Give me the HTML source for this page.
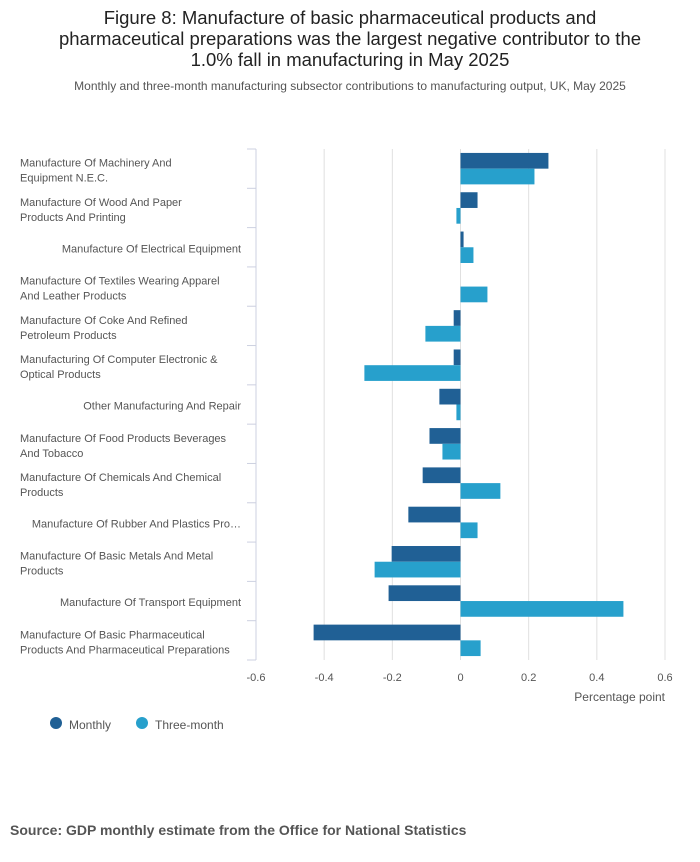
<!DOCTYPE html>
<html><head><meta charset="utf-8"><style>
body{margin:0;background:#fff;font-family:"Liberation Sans",sans-serif;}
</style></head><body>
<svg width="700" height="857" xmlns="http://www.w3.org/2000/svg" id="svg" font-family="Liberation Sans, sans-serif">
<text x="350" y="24" text-anchor="middle" font-size="18.5" fill="#222">Figure 8: Manufacture of basic pharmaceutical products and</text>
<text x="350" y="45" text-anchor="middle" font-size="18.5" fill="#222">pharmaceutical preparations was the largest negative contributor to the</text>
<text x="350" y="66" text-anchor="middle" font-size="18.5" fill="#222">1.0% fall in manufacturing in May 2025</text>
<text x="350" y="90" text-anchor="middle" font-size="12" fill="#555">Monthly and three-month manufacturing subsector contributions to manufacturing output, UK, May 2025</text>
<g id="plot"></g>
<text x="665" y="701" text-anchor="end" font-size="12" fill="#555">Percentage point</text>
<circle cx="56" cy="723" r="6" fill="#206095"/>
<text x="69" y="729" font-size="12" fill="#555">Monthly</text>
<circle cx="142" cy="723" r="6" fill="#27a0cc"/>
<text x="155" y="729" font-size="12" fill="#555">Three-month</text>
<text x="10" y="835" font-size="14" font-weight="bold" fill="#555">Source: GDP monthly estimate from the Office for National Statistics</text>
</svg>
<script>
const categories=[["Manufacture Of Machinery And","Equipment N.E.C."],["Manufacture Of Wood And Paper","Products And Printing"],["Manufacture Of Electrical Equipment"],["Manufacture Of Textiles Wearing Apparel","And Leather Products"],["Manufacture Of Coke And Refined","Petroleum Products"],["Manufacturing Of Computer Electronic &","Optical Products"],["Other Manufacturing And Repair"],["Manufacture Of Food Products Beverages","And Tobacco"],["Manufacture Of Chemicals And Chemical","Products"],["Manufacture Of Rubber And Plastics Pro…"],["Manufacture Of Basic Metals And Metal","Products"],["Manufacture Of Transport Equipment"],["Manufacture Of Basic Pharmaceutical","Products And Pharmaceutical Preparations"]];
const monthly=[0.258,0.05,0.009,0,-0.02,-0.02,-0.062,-0.091,-0.111,-0.153,-0.202,-0.211,-0.431];
const threeMonth=[0.217,-0.012,0.038,0.079,-0.103,-0.282,-0.012,-0.053,0.117,0.05,-0.252,0.478,0.059];
const ticks=[-0.6,-0.4,-0.2,0,0.2,0.4,0.6];
const tickLabels=["-0.6","-0.4","-0.2","0","0.2","0.4","0.6"];
const NS="http://www.w3.org/2000/svg";
const g=document.getElementById('plot');
const X0=256,X1=665,Y0=149,Y1=660;
const x=v=>X0+(v+0.6)/1.2*(X1-X0);
const band=(Y1-Y0)/categories.length;
function mk(t,a){const e=document.createElementNS(NS,t);for(const k in a)e.setAttribute(k,a[k]);g.appendChild(e);return e;}
ticks.forEach((t,i)=>{
 const l=mk('line',{x1:x(t),x2:x(t),y1:Y0,y2:Y1,stroke:'#e0e0e0','stroke-width':1});
 
 
 const tx=mk('text',{x:x(t),y:681,'text-anchor':'middle','font-size':11,fill:'#555'});
 tx.textContent=tickLabels[i];
 
 
});
const ax=mk('line',{x1:X0,x2:X0,y1:Y0,y2:Y1,stroke:'#ccd0e0','stroke-width':1});


for(let i=0;i<=categories.length;i++){
 const y=Y0+i*band;
 const tk=mk('line',{x1:X0-9,x2:X0,y1:y,y2:y,stroke:'#ccd0e0','stroke-width':1});
 
 
}
categories.forEach((c,i)=>{
 const yc=Y0+i*band+band/2;
 const bh=band*0.4;
 const r1=mk('rect',{x:Math.min(x(0),x(monthly[i])),y:yc-bh,width:Math.abs(x(monthly[i])-x(0)),height:bh,fill:'#206095'});
 
 
 const r2=mk('rect',{x:Math.min(x(0),x(threeMonth[i])),y:yc,width:Math.abs(x(threeMonth[i])-x(0)),height:bh,fill:'#27a0cc'});
 
 
 if(c.length===1){
  const t=mk('text',{x:241,y:yc+5,'text-anchor':'end','font-size':11,fill:'#555'});
  t.textContent=c[0];
  
  
 }else{
  c.forEach((s,j)=>{
   const t=mk('text',{x:20,y:yc-2+j*15,'font-size':11,fill:'#555'});
   t.textContent=s;
   
   
  });
 }
});
</script>
</body></html>
